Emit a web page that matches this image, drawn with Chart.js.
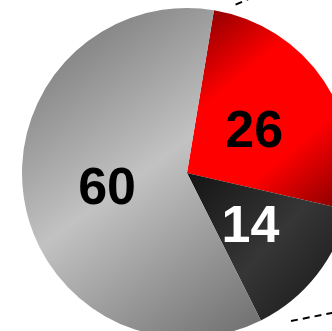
<!DOCTYPE html>
<html><head><meta charset="utf-8">
<script src="https://cdn.jsdelivr.net/npm/chart.js@4/dist/chart.umd.min.js"></script>
<style>
html,body{margin:0;padding:0;overflow:hidden;background:#fff;width:332px;height:331px}
#wrap{position:absolute;left:2px;top:-12px;width:370px;height:370px}
</style></head><body>
<div id="wrap"><canvas id="c"></canvas></div>
<script>
// Pie slices, in drawing order (clockwise)
const categories = ['Group A', 'Group B', 'Group C'];
const values = [26, 14, 60];
const labelColors = ['#000000', '#ffffff', '#000000'];
// Each slice is shaded dark -> light -> dark across its own bounding box
const shadeDark = ['#7a0000', '#141414', '#6c6c6c'];
const shadeLight = ['#ff0000', '#363636', '#c2c2c2'];
const lightBand = [0.17, 0, 0]; // half-width of the flat light band, as a gradient fraction
const startAngle = 9.4; // degrees clockwise from 12 o'clock

const DEG = Math.PI / 180;

function sliceBox(area, i) {
  const total = values.reduce((a, b) => a + b, 0);
  let before = 0;
  for (let k = 0; k < i; k++) before += values[k];
  const a0 = startAngle + 360 * before / total - 90;
  const a1 = a0 + 360 * values[i] / total;
  const cx = (area.left + area.right) / 2;
  const cy = (area.top + area.bottom) / 2;
  const r = Math.min(area.width, area.height) / 2;
  const pts = [[cx, cy]];
  const push = a => pts.push([cx + r * Math.cos(a * DEG), cy + r * Math.sin(a * DEG)]);
  push(a0); push(a1);
  for (let q = Math.ceil(a0 / 90) * 90; q < a1; q += 90) push(q);
  const xs = pts.map(p => p[0]), ys = pts.map(p => p[1]);
  return [Math.min(...xs), Math.min(...ys), Math.max(...xs), Math.max(...ys)];
}

function shade(context) {
  const chart = context.chart;
  const i = context.dataIndex;
  const area = chart.chartArea;
  if (!area) return shadeLight[i];
  const [x0, y0, x1, y1] = sliceBox(area, i);
  const g = chart.ctx.createLinearGradient(x0, y0, x1, y1);
  g.addColorStop(0, shadeDark[i]);
  g.addColorStop(0.5 - lightBand[i], shadeLight[i]);
  g.addColorStop(0.5 + lightBand[i], shadeLight[i]);
  g.addColorStop(1, shadeDark[i]);
  return g;
}

// Value labels placed halfway out along each slice's middle angle
const valueLabels = {
  id: 'valueLabels',
  afterDatasetsDraw(chart) {
    const ctx = chart.ctx;
    const size = 52;
    ctx.save();
    ctx.font = 'bold ' + size + 'px "Liberation Sans", Arial, sans-serif';
    ctx.textAlign = 'center';
    ctx.textBaseline = 'alphabetic';
    chart.getDatasetMeta(0).data.forEach((arc, i) => {
      const mid = (arc.startAngle + arc.endAngle) / 2;
      const rr = arc.outerRadius * 0.49;
      const x = arc.x + rr * Math.cos(mid);
      const y = arc.y + rr * Math.sin(mid);
      ctx.fillStyle = labelColors[i];
      ctx.fillText(String(values[i]), x, y + size * 0.358);
    });
    ctx.restore();
  }
};

// Dashed leader lines running off toward the right
const leaders = {
  id: 'leaders',
  afterDraw(chart) {
    const arc = chart.getDatasetMeta(0).data[0];
    if (!arc) return;
    const ctx = chart.ctx;
    const r = arc.outerRadius;
    const lines = [
      { ang: 16.1, dist: 1.062, dx: 7, dy: -3, len: 70 },
      { ang: 144.9, dist: 1.096, dx: 36, dy: -7, len: 90 }
    ];
    ctx.save();
    ctx.strokeStyle = '#000';
    ctx.lineWidth = 2;
    ctx.setLineDash([7, 5]);
    lines.forEach(l => {
      const a = (l.ang - 90) * DEG;
      const sx = arc.x + l.dist * r * Math.cos(a);
      const sy = arc.y + l.dist * r * Math.sin(a);
      const n = Math.hypot(l.dx, l.dy);
      ctx.beginPath();
      ctx.moveTo(sx, sy);
      ctx.lineTo(sx + l.dx / n * l.len, sy + l.dy / n * l.len);
      ctx.stroke();
    });
    ctx.restore();
  }
};

new Chart(document.getElementById('c'), {
  type: 'pie',
  data: {
    labels: categories,
    datasets: [{
      data: values,
      backgroundColor: shade,
      borderWidth: 0,
      hoverOffset: 0
    }]
  },
  options: {
    responsive: true,
    maintainAspectRatio: false,
    animation: false,
    rotation: startAngle,
    layout: { padding: 20 },
    events: [],
    plugins: { legend: { display: false }, tooltip: { enabled: false } }
  },
  plugins: [valueLabels, leaders]
});
</script>
</body></html>
